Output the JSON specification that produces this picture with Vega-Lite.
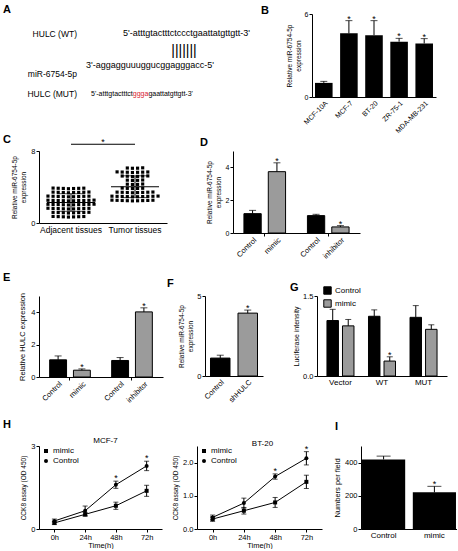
{
  "$schema": "https://vega.github.io/schema/vega-lite/v6.json",
  "padding": {"left": 3, "top": 4, "right": 0, "bottom": 0},
  "background": "white",
  "spacing": 0,
  "resolve": {"scale": {"x": "independent", "y": "independent", "color": "independent", "shape": "independent", "xOffset": "independent"}, "legend": {"color": "independent", "shape": "independent"}, "axis": {"x": "independent", "y": "independent"}},
  "datasets": {
    "seqs": [
      {"row": "WT", "part": "name", "text": "HULC (WT)"},
      {"row": "miR", "part": "name", "text": "miR-6754-5p"},
      {"row": "MUT", "part": "name", "text": "HULC (MUT)"},
      {"row": "WT", "part": "wt", "text": "5'-atttgtactttctccctgaattatgttgtt-3'"},
      {"row": "pair", "part": "pair", "text": "|||||||"},
      {"row": "miR", "part": "mir", "text": "3'-aggagguuuggucggagggacc-5'"},
      {"row": "MUT", "part": "mut1", "text": "5'-atttgtactttct"},
      {"row": "MUT", "part": "mut2", "text": "ggga"},
      {"row": "MUT", "part": "mut3", "text": "gaattatgttgtt-3'"}
    ],
    "cells": [
      {"cell": "MCF-10A", "mean": 1.02, "upper": 1.13, "sig": ""},
      {"cell": "MCF-7", "mean": 4.6, "upper": 5.52, "sig": "*"},
      {"cell": "BT-20", "mean": 4.47, "upper": 5.52, "sig": "*"},
      {"cell": "ZR-75-1", "mean": 4.0, "upper": 4.24, "sig": "*"},
      {"cell": "MDA-MB-231", "mean": 3.87, "upper": 4.22, "sig": "*"}
    ],
    "tissue": [
      {"group": "Adjacent tissues", "v": 3.86}, {"group": "Adjacent tissues", "v": 3.83}, {"group": "Adjacent tissues", "v": 3.88}, {"group": "Adjacent tissues", "v": 3.81}, {"group": "Adjacent tissues", "v": 3.85}, {"group": "Adjacent tissues", "v": 3.87}, {"group": "Adjacent tissues", "v": 3.84},
      {"group": "Adjacent tissues", "v": 3.41}, {"group": "Adjacent tissues", "v": 3.38}, {"group": "Adjacent tissues", "v": 3.43}, {"group": "Adjacent tissues", "v": 3.36}, {"group": "Adjacent tissues", "v": 3.40}, {"group": "Adjacent tissues", "v": 3.42}, {"group": "Adjacent tissues", "v": 3.39}, {"group": "Adjacent tissues", "v": 3.44},
      {"group": "Adjacent tissues", "v": 2.96}, {"group": "Adjacent tissues", "v": 2.93}, {"group": "Adjacent tissues", "v": 2.98}, {"group": "Adjacent tissues", "v": 2.91}, {"group": "Adjacent tissues", "v": 2.95}, {"group": "Adjacent tissues", "v": 2.97}, {"group": "Adjacent tissues", "v": 2.94}, {"group": "Adjacent tissues", "v": 2.99}, {"group": "Adjacent tissues", "v": 2.92},
      {"group": "Adjacent tissues", "v": 2.51}, {"group": "Adjacent tissues", "v": 2.48}, {"group": "Adjacent tissues", "v": 2.53}, {"group": "Adjacent tissues", "v": 2.46}, {"group": "Adjacent tissues", "v": 2.50}, {"group": "Adjacent tissues", "v": 2.52}, {"group": "Adjacent tissues", "v": 2.49}, {"group": "Adjacent tissues", "v": 2.54}, {"group": "Adjacent tissues", "v": 2.47}, {"group": "Adjacent tissues", "v": 2.50},
      {"group": "Adjacent tissues", "v": 2.06}, {"group": "Adjacent tissues", "v": 2.03}, {"group": "Adjacent tissues", "v": 2.08}, {"group": "Adjacent tissues", "v": 2.01}, {"group": "Adjacent tissues", "v": 2.05}, {"group": "Adjacent tissues", "v": 2.07}, {"group": "Adjacent tissues", "v": 2.04}, {"group": "Adjacent tissues", "v": 2.09}, {"group": "Adjacent tissues", "v": 2.02}, {"group": "Adjacent tissues", "v": 2.05},
      {"group": "Adjacent tissues", "v": 1.61}, {"group": "Adjacent tissues", "v": 1.58}, {"group": "Adjacent tissues", "v": 1.63}, {"group": "Adjacent tissues", "v": 1.56}, {"group": "Adjacent tissues", "v": 1.60}, {"group": "Adjacent tissues", "v": 1.62}, {"group": "Adjacent tissues", "v": 1.59}, {"group": "Adjacent tissues", "v": 1.64}, {"group": "Adjacent tissues", "v": 1.57},
      {"group": "Adjacent tissues", "v": 1.16}, {"group": "Adjacent tissues", "v": 1.13}, {"group": "Adjacent tissues", "v": 1.18}, {"group": "Adjacent tissues", "v": 1.11}, {"group": "Adjacent tissues", "v": 1.15}, {"group": "Adjacent tissues", "v": 1.17}, {"group": "Adjacent tissues", "v": 1.14}, {"group": "Adjacent tissues", "v": 1.19},
      {"group": "Adjacent tissues", "v": 0.71}, {"group": "Adjacent tissues", "v": 0.68}, {"group": "Adjacent tissues", "v": 0.73}, {"group": "Adjacent tissues", "v": 0.66}, {"group": "Adjacent tissues", "v": 0.70}, {"group": "Adjacent tissues", "v": 0.72}, {"group": "Adjacent tissues", "v": 0.69},
      {"group": "Tumor tissues", "v": 6.11}, {"group": "Tumor tissues", "v": 6.08}, {"group": "Tumor tissues", "v": 6.13}, {"group": "Tumor tissues", "v": 6.09},
      {"group": "Tumor tissues", "v": 5.66}, {"group": "Tumor tissues", "v": 5.63}, {"group": "Tumor tissues", "v": 5.68}, {"group": "Tumor tissues", "v": 5.61}, {"group": "Tumor tissues", "v": 5.65}, {"group": "Tumor tissues", "v": 5.67}, {"group": "Tumor tissues", "v": 5.64},
      {"group": "Tumor tissues", "v": 5.21}, {"group": "Tumor tissues", "v": 5.18}, {"group": "Tumor tissues", "v": 5.23}, {"group": "Tumor tissues", "v": 5.16}, {"group": "Tumor tissues", "v": 5.20}, {"group": "Tumor tissues", "v": 5.22},
      {"group": "Tumor tissues", "v": 4.76}, {"group": "Tumor tissues", "v": 4.73}, {"group": "Tumor tissues", "v": 4.78}, {"group": "Tumor tissues", "v": 4.74},
      {"group": "Tumor tissues", "v": 4.31}, {"group": "Tumor tissues", "v": 4.28}, {"group": "Tumor tissues", "v": 4.33}, {"group": "Tumor tissues", "v": 4.29},
      {"group": "Tumor tissues", "v": 3.86}, {"group": "Tumor tissues", "v": 3.83}, {"group": "Tumor tissues", "v": 3.88}, {"group": "Tumor tissues", "v": 3.84}, {"group": "Tumor tissues", "v": 3.85},
      {"group": "Tumor tissues", "v": 3.41}, {"group": "Tumor tissues", "v": 3.38}, {"group": "Tumor tissues", "v": 3.43}, {"group": "Tumor tissues", "v": 3.36}, {"group": "Tumor tissues", "v": 3.40}, {"group": "Tumor tissues", "v": 3.42}, {"group": "Tumor tissues", "v": 3.39}, {"group": "Tumor tissues", "v": 3.44},
      {"group": "Tumor tissues", "v": 2.96}, {"group": "Tumor tissues", "v": 2.93}, {"group": "Tumor tissues", "v": 2.98}, {"group": "Tumor tissues", "v": 2.91}, {"group": "Tumor tissues", "v": 2.95}, {"group": "Tumor tissues", "v": 2.97}, {"group": "Tumor tissues", "v": 2.94}, {"group": "Tumor tissues", "v": 2.99}, {"group": "Tumor tissues", "v": 2.92}, {"group": "Tumor tissues", "v": 2.96},
      {"group": "Tumor tissues", "v": 2.51}, {"group": "Tumor tissues", "v": 2.48}, {"group": "Tumor tissues", "v": 2.53}, {"group": "Tumor tissues", "v": 2.46}, {"group": "Tumor tissues", "v": 2.50}, {"group": "Tumor tissues", "v": 2.52}, {"group": "Tumor tissues", "v": 2.49}, {"group": "Tumor tissues", "v": 2.54}, {"group": "Tumor tissues", "v": 2.47}
    ],
    "tissueCompare": [
      {"from": "Adjacent tissues", "to": "Tumor tissues", "sig": "*"}
    ],
    "mimicInhib": [
      {"set": "mimic set", "arm": "Control", "label": "Control", "mean": 1.18, "upper": 1.38, "sig": ""},
      {"set": "mimic set", "arm": "Treated", "label": "mimic", "mean": 3.74, "upper": 4.28, "sig": "*"},
      {"set": "inhibitor set", "arm": "Control", "label": "Control", "mean": 1.06, "upper": 1.14, "sig": ""},
      {"set": "inhibitor set", "arm": "Treated", "label": "inhibitor", "mean": 0.37, "upper": 0.45, "sig": "*"}
    ],
    "hulc": [
      {"set": "mimic set", "arm": "Control", "label": "Control", "mean": 1.06, "upper": 1.3, "sig": ""},
      {"set": "mimic set", "arm": "Treated", "label": "mimic", "mean": 0.42, "upper": 0.5, "sig": "*"},
      {"set": "inhibitor set", "arm": "Control", "label": "Control", "mean": 1.02, "upper": 1.2, "sig": ""},
      {"set": "inhibitor set", "arm": "Treated", "label": "inhibitor", "mean": 4.02, "upper": 4.27, "sig": "*"}
    ],
    "shHULC": [
      {"label": "Control", "arm": "Control", "mean": 1.12, "upper": 1.3, "sig": ""},
      {"label": "shHULC", "arm": "Treated", "mean": 3.93, "upper": 4.12, "sig": "*"}
    ],
    "luc": [
      {"vec": "Vector", "arm": "Control", "mean": 1.04, "upper": 1.25, "sig": ""},
      {"vec": "Vector", "arm": "mimic", "mean": 0.94, "upper": 1.06, "sig": ""},
      {"vec": "WT", "arm": "Control", "mean": 1.12, "upper": 1.24, "sig": ""},
      {"vec": "WT", "arm": "mimic", "mean": 0.28, "upper": 0.36, "sig": "*"},
      {"vec": "MUT", "arm": "Control", "mean": 1.1, "upper": 1.32, "sig": ""},
      {"vec": "MUT", "arm": "mimic", "mean": 0.875, "upper": 0.96, "sig": ""}
    ],
    "cck8": [
      {"line": "MCF-7", "cond": "mimic", "t": "0h", "mean": 0.22, "lo": 0.16, "hi": 0.28, "sig": ""},
      {"line": "MCF-7", "cond": "mimic", "t": "24h", "mean": 0.53, "lo": 0.46, "hi": 0.6, "sig": ""},
      {"line": "MCF-7", "cond": "mimic", "t": "48h", "mean": 0.84, "lo": 0.71, "hi": 0.97, "sig": ""},
      {"line": "MCF-7", "cond": "mimic", "t": "72h", "mean": 1.38, "lo": 1.18, "hi": 1.58, "sig": ""},
      {"line": "MCF-7", "cond": "Control", "t": "0h", "mean": 0.29, "lo": 0.22, "hi": 0.36, "sig": ""},
      {"line": "MCF-7", "cond": "Control", "t": "24h", "mean": 0.66, "lo": 0.49, "hi": 0.83, "sig": ""},
      {"line": "MCF-7", "cond": "Control", "t": "48h", "mean": 1.6, "lo": 1.47, "hi": 1.73, "sig": "*"},
      {"line": "MCF-7", "cond": "Control", "t": "72h", "mean": 2.28, "lo": 2.11, "hi": 2.45, "sig": "*"},
      {"line": "BT-20", "cond": "mimic", "t": "0h", "mean": 0.3, "lo": 0.23, "hi": 0.37, "sig": ""},
      {"line": "BT-20", "cond": "mimic", "t": "24h", "mean": 0.55, "lo": 0.45, "hi": 0.65, "sig": ""},
      {"line": "BT-20", "cond": "mimic", "t": "48h", "mean": 0.8, "lo": 0.65, "hi": 0.95, "sig": ""},
      {"line": "BT-20", "cond": "mimic", "t": "72h", "mean": 1.42, "lo": 1.22, "hi": 1.62, "sig": ""},
      {"line": "BT-20", "cond": "Control", "t": "0h", "mean": 0.35, "lo": 0.28, "hi": 0.42, "sig": ""},
      {"line": "BT-20", "cond": "Control", "t": "24h", "mean": 0.78, "lo": 0.63, "hi": 0.93, "sig": ""},
      {"line": "BT-20", "cond": "Control", "t": "48h", "mean": 1.58, "lo": 1.5, "hi": 1.66, "sig": "*"},
      {"line": "BT-20", "cond": "Control", "t": "72h", "mean": 2.13, "lo": 1.93, "hi": 2.33, "sig": "*"}
    ],
    "migration": [
      {"label": "Control", "mean": 419, "upper": 439, "sig": ""},
      {"label": "mimic", "mean": 221, "upper": 257, "sig": "*"}
    ]
  },
  "vconcat": [
    {
      "spacing": 0,
      "bounds": "flush",
      "resolve": {"scale": {"x": "independent", "y": "independent", "color": "independent", "shape": "independent", "xOffset": "independent"}, "legend": {"color": "independent", "shape": "independent"}, "axis": {"x": "independent", "y": "independent"}},
      "hconcat": [
        {"width": 1, "height": 113, "data": {"values": []}, "mark": {"type": "point", "opacity": 0}, "title": {"text": "A", "dx": -35, "dy": 5}},
        {
          "width": 220, "height": 100,
          "data": {"name": "seqs"},
          "encoding": {
            "y": {"field": "row", "type": "nominal", "scale": {"type": "point", "domain": ["WT", "pair", "miR", "MUT"], "padding": 1.76}, "axis": null},
            "text": {"field": "text"}
          },
          "layer": [
            {"transform": [{"filter": "datum.part === 'name'"}], "mark": {"type": "text", "align": "right", "baseline": "middle", "dx": -72, "fontSize": 8.5, "color": "black"}},
            {"transform": [{"filter": "datum.part === 'wt'"}], "mark": {"type": "text", "align": "left", "baseline": "middle", "dx": -26, "dy": -1, "fontSize": 9, "color": "black"}},
            {"transform": [{"filter": "datum.part === 'pair'"}], "mark": {"type": "text", "align": "center", "baseline": "middle", "dx": 35, "dy": -3, "fontSize": 14, "color": "black"}},
            {"transform": [{"filter": "datum.part === 'mir'"}], "mark": {"type": "text", "align": "left", "baseline": "middle", "dx": -63, "dy": -9, "fontSize": 9, "color": "black"}},
            {"transform": [{"filter": "datum.part === 'mut1'"}], "mark": {"type": "text", "align": "left", "baseline": "middle", "dx": -58, "fontSize": 7, "color": "black"}},
            {"transform": [{"filter": "datum.part === 'mut2'"}], "mark": {"type": "text", "align": "left", "baseline": "middle", "dx": -16.2, "fontSize": 7, "color": "#d8202f"}},
            {"transform": [{"filter": "datum.part === 'mut3'"}], "mark": {"type": "text", "align": "left", "baseline": "middle", "dx": -0.6, "fontSize": 7, "color": "black"}}
          ]
        },
        {"width": 53, "height": 1, "data": {"values": []}, "mark": {"type": "point", "opacity": 0}, "title": {"text": "B", "dx": 2, "dy": 6}},
        {
          "width": 124, "height": 83,
          "data": {"name": "cells"},
          "encoding": {
            "x": {"field": "cell", "type": "nominal", "sort": null, "scale": {"paddingInner": 0.3, "paddingOuter": 0.12}, "axis": {"title": null, "labelAngle": -45, "labelFontSize": 7, "ticks": false, "labelPadding": 2}}
          },
          "layer": [
            {"mark": {"type": "bar", "color": "black"}, "encoding": {"y": {"field": "mean", "type": "quantitative", "scale": {"domain": [0, 6], "nice": false}, "axis": {"values": [0, 2, 4, 6], "title": ["Relative  miR-6754-5p", "expression"], "titleFontSize": 6.5, "titleLineHeight": 9, "labelFontSize": 7, "titlePadding": 3}}}},
            {"mark": {"type": "rule", "color": "black"}, "encoding": {"y": {"field": "mean", "type": "quantitative"}, "y2": {"field": "upper"}}},
            {"mark": {"type": "tick", "color": "black", "size": 7, "thickness": 1, "orient": "horizontal"}, "encoding": {"y": {"field": "upper", "type": "quantitative"}}},
            {"mark": {"type": "text", "fontSize": 9, "baseline": "alphabetic", "dy": 1, "color": "black"}, "encoding": {"y": {"field": "upper", "type": "quantitative"}, "text": {"field": "sig"}}}
          ]
        }
      ]
    },
    {
      "spacing": 0,
      "bounds": "flush",
      "resolve": {"scale": {"x": "independent", "y": "independent", "color": "independent", "shape": "independent", "xOffset": "independent"}, "legend": {"color": "independent", "shape": "independent"}, "axis": {"x": "independent", "y": "independent"}},
      "hconcat": [
        {"width": 1, "height": 121, "data": {"values": []}, "mark": {"type": "point", "opacity": 0}, "title": {"text": "C", "dx": -35, "dy": -2}},
        {
          "width": 128, "height": 72,
          "encoding": {
            "x": {"field": "group", "type": "nominal", "sort": null, "scale": {"domain": ["Adjacent tissues", "Tumor tissues"], "paddingInner": 0.2, "paddingOuter": 0.1}, "axis": {"title": null, "labelAngle": 0, "labelFontSize": 8.5, "ticks": false, "labelPadding": 2}}
          },
          "layer": [
            {
              "data": {"name": "tissue"},
              "transform": [
                {"bin": {"step": 0.45, "anchor": 0.025}, "field": "v", "as": "vbin"},
                {"window": [{"op": "row_number", "as": "k"}], "groupby": ["group", "vbin"], "sort": [{"field": "v"}]}
              ],
              "mark": {"type": "point", "shape": "square", "filled": true, "color": "black", "size": 10, "opacity": 1},
              "encoding": {
                "xOffset": {"field": "k", "type": "ordinal", "scale": {"type": "band", "domain": [9, 7, 5, 3, 1, 2, 4, 6, 8, 10], "paddingInner": 0, "paddingOuter": 0}},
                "y": {"field": "v", "type": "quantitative", "scale": {"domain": [0, 8], "nice": false}, "axis": {"values": [0, 2, 4, 6, 8], "title": ["Relative  miR-6754-5p", "expression"], "titleFontSize": 6.5, "titleLineHeight": 9, "labelFontSize": 7.5, "titlePadding": 4}}
              }
            },
            {"data": {"name": "tissue"}, "mark": {"type": "tick", "color": "black", "size": 48, "thickness": 1, "orient": "horizontal"}, "encoding": {"y": {"aggregate": "mean", "field": "v", "type": "quantitative", "title": ["Relative  miR-6754-5p", "expression"]}}},
            {"data": {"name": "tissue"}, "mark": {"type": "errorbar", "extent": "stdev", "color": "black", "ticks": {"size": 28, "color": "black"}}, "encoding": {"y": {"field": "v", "type": "quantitative", "title": ["Relative  miR-6754-5p", "expression"]}}},
            {"data": {"name": "tissueCompare"}, "mark": {"type": "rule", "color": "black"}, "encoding": {"x": {"field": "from", "type": "nominal"}, "x2": {"field": "to"}, "y": {"datum": 8.75, "type": "quantitative"}}},
            {"data": {"name": "tissueCompare"}, "mark": {"type": "text", "fontSize": 9, "baseline": "alphabetic", "dy": 1, "color": "black"}, "encoding": {"x": null, "y": {"datum": 8.75, "type": "quantitative"}, "text": {"field": "sig"}}}
          ]
        },
        {"width": 66, "height": 1, "data": {"values": []}, "mark": {"type": "point", "opacity": 0}, "title": {"text": "D", "dx": 33, "dy": 1}},
        {
          "width": 127, "height": 82,
          "data": {"name": "mimicInhib"},
          "encoding": {
            "x": {"field": "set", "type": "nominal", "sort": null, "scale": {"paddingInner": 0.344, "paddingOuter": 0.172}, "axis": {"title": null, "labels": false, "ticks": true, "tickSize": 3}},
            "xOffset": {"field": "arm", "type": "nominal", "scale": {"domain": ["Control", "Treated"], "paddingInner": 0.29, "paddingOuter": 0}}
          },
          "layer": [
            {"mark": {"type": "bar", "stroke": "black", "strokeWidth": 1}, "encoding": {"y": {"field": "mean", "type": "quantitative", "scale": {"domain": [0, 5], "nice": false}, "axis": {"values": [0, 1, 2, 3, 4, 5], "title": ["Relative  miR-6754-5p", "expression"], "titleFontSize": 6.5, "titleLineHeight": 9, "labelFontSize": 7, "titlePadding": 4}}, "color": {"field": "arm", "type": "nominal", "scale": {"domain": ["Control", "Treated"], "range": ["black", "#9b9b9b"]}, "legend": null}}},
            {"mark": {"type": "rule", "color": "black"}, "encoding": {"y": {"field": "mean", "type": "quantitative"}, "y2": {"field": "upper"}}},
            {"mark": {"type": "tick", "color": "black", "size": 7, "thickness": 1, "orient": "horizontal"}, "encoding": {"y": {"field": "upper", "type": "quantitative"}}},
            {"mark": {"type": "text", "fontSize": 9, "baseline": "alphabetic", "dy": 1, "color": "black"}, "encoding": {"y": {"field": "upper", "type": "quantitative"}, "text": {"field": "sig"}}},
            {"mark": {"type": "text", "fontSize": 7.5, "angle": 315, "align": "right", "baseline": "top", "color": "black"}, "encoding": {"y": {"datum": -0.2, "type": "quantitative"}, "text": {"field": "label"}}}
          ]
        }
      ]
    },
    {
      "spacing": 0,
      "bounds": "flush",
      "resolve": {"scale": {"x": "independent", "y": "independent", "color": "independent", "shape": "independent", "xOffset": "independent"}, "legend": {"color": "independent", "shape": "independent"}, "axis": {"x": "independent", "y": "independent"}},
      "hconcat": [
        {"width": 1, "height": 123, "data": {"values": []}, "mark": {"type": "point", "opacity": 0}, "title": {"text": "E", "dx": -35, "dy": -9}},
        {
          "width": 124, "height": 81,
          "data": {"name": "hulc"},
          "encoding": {
            "x": {"field": "set", "type": "nominal", "sort": null, "scale": {"paddingInner": 0.344, "paddingOuter": 0.172}, "axis": {"title": null, "labels": false, "ticks": true, "tickSize": 3}},
            "xOffset": {"field": "arm", "type": "nominal", "scale": {"domain": ["Control", "Treated"], "paddingInner": 0.29, "paddingOuter": 0}}
          },
          "layer": [
            {"mark": {"type": "bar", "stroke": "black", "strokeWidth": 1}, "encoding": {"y": {"field": "mean", "type": "quantitative", "scale": {"domain": [0, 5], "nice": false}, "axis": {"values": [0, 1, 2, 3, 4, 5], "title": "Relative  HULC expression", "titleFontSize": 7.5, "labelFontSize": 7.5, "titlePadding": 4}}, "color": {"field": "arm", "type": "nominal", "scale": {"domain": ["Control", "Treated"], "range": ["black", "#9b9b9b"]}, "legend": null}}},
            {"mark": {"type": "rule", "color": "black"}, "encoding": {"y": {"field": "mean", "type": "quantitative"}, "y2": {"field": "upper"}}},
            {"mark": {"type": "tick", "color": "black", "size": 7, "thickness": 1, "orient": "horizontal"}, "encoding": {"y": {"field": "upper", "type": "quantitative"}}},
            {"mark": {"type": "text", "fontSize": 9, "baseline": "alphabetic", "dy": 1, "color": "black"}, "encoding": {"y": {"field": "upper", "type": "quantitative"}, "text": {"field": "sig"}}},
            {"mark": {"type": "text", "fontSize": 7.5, "angle": 315, "align": "right", "baseline": "top", "color": "black"}, "encoding": {"y": {"datum": -0.2, "type": "quantitative"}, "text": {"field": "label"}}}
          ]
        },
        {"width": 42, "height": 1, "data": {"values": []}, "mark": {"type": "point", "opacity": 0}, "title": {"text": "F", "dx": 4, "dy": -3}},
        {
          "width": 58, "height": 80,
          "data": {"name": "shHULC"},
          "encoding": {
            "x": {"field": "label", "type": "nominal", "sort": null, "scale": {"paddingInner": 0.29, "paddingOuter": 0.2}, "axis": {"title": null, "labelAngle": -45, "labelFontSize": 7.5, "ticks": false, "labelPadding": 2}}
          },
          "layer": [
            {"mark": {"type": "bar", "stroke": "black", "strokeWidth": 1}, "encoding": {"y": {"field": "mean", "type": "quantitative", "scale": {"domain": [0, 5], "nice": false}, "axis": {"values": [0, 1, 2, 3, 4, 5], "title": ["Relative  miR-6754-5p", "expression"], "titleFontSize": 6.5, "titleLineHeight": 9, "labelFontSize": 7.5, "titlePadding": 3}}, "color": {"field": "arm", "type": "nominal", "scale": {"domain": ["Control", "Treated"], "range": ["black", "#9b9b9b"]}, "legend": null}}},
            {"mark": {"type": "rule", "color": "black"}, "encoding": {"y": {"field": "mean", "type": "quantitative"}, "y2": {"field": "upper"}}},
            {"mark": {"type": "tick", "color": "black", "size": 7, "thickness": 1, "orient": "horizontal"}, "encoding": {"y": {"field": "upper", "type": "quantitative"}}},
            {"mark": {"type": "text", "fontSize": 9, "baseline": "alphabetic", "dy": 1, "color": "black"}, "encoding": {"y": {"field": "upper", "type": "quantitative"}, "text": {"field": "sig"}}}
          ]
        },
        {"width": 54, "height": 1, "data": {"values": []}, "mark": {"type": "point", "opacity": 0}, "title": {"text": "G", "dx": 27, "dy": 1}},
        {
          "width": 130, "height": 80,
          "data": {"name": "luc"},
          "encoding": {
            "x": {"field": "vec", "type": "nominal", "sort": null, "scale": {"paddingInner": 0.2, "paddingOuter": 0.165}, "axis": {"title": null, "labelAngle": 0, "labelFontSize": 8, "ticks": false, "labelPadding": 2}},
            "xOffset": {"field": "arm", "type": "nominal", "scale": {"domain": ["Control", "mimic"], "paddingInner": 0.26, "paddingOuter": 0.2}}
          },
          "layer": [
            {"mark": {"type": "bar", "stroke": "black", "strokeWidth": 1}, "encoding": {"y": {"field": "mean", "type": "quantitative", "scale": {"domain": [0, 1.5], "nice": false}, "axis": {"values": [0, 0.5, 1, 1.5], "format": ".1f", "title": "Luciferase intensity", "titleFontSize": 7, "labelFontSize": 7.5, "titlePadding": 3}}, "color": {"field": "arm", "type": "nominal", "scale": {"domain": ["Control", "mimic"], "range": ["black", "#9b9b9b"]}, "legend": {"orient": "none", "legendX": 6, "legendY": -10, "title": null, "symbolType": "square", "symbolSize": 55, "symbolStrokeColor": "black", "symbolStrokeWidth": 1, "labelFontSize": 8, "labelColor": "black", "rowPadding": 0, "labelOffset": 3, "padding": 0}}}},
            {"mark": {"type": "rule", "color": "black"}, "encoding": {"y": {"field": "mean", "type": "quantitative"}, "y2": {"field": "upper"}}},
            {"mark": {"type": "tick", "color": "black", "size": 6, "thickness": 1, "orient": "horizontal"}, "encoding": {"y": {"field": "upper", "type": "quantitative"}}},
            {"mark": {"type": "text", "fontSize": 9, "baseline": "alphabetic", "dy": 1, "color": "black"}, "encoding": {"y": {"field": "upper", "type": "quantitative"}, "text": {"field": "sig"}}}
          ]
        }
      ]
    },
    {
      "spacing": 0,
      "bounds": "flush",
      "resolve": {"scale": {"x": "independent", "y": "independent", "color": "independent", "shape": "independent", "xOffset": "independent"}, "legend": {"color": "independent", "shape": "independent"}, "axis": {"x": "independent", "y": "independent"}},
      "hconcat": [
        {"width": 1, "height": 1, "data": {"values": []}, "mark": {"type": "point", "opacity": 0}, "title": {"text": "H", "dx": -35, "dy": -12}},
        {
          "width": 123, "height": 83,
          "data": {"name": "cck8"},
          "transform": [{"filter": "datum.line === 'MCF-7'"}],
          "title": {"text": "MCF-7", "anchor": "middle", "fontSize": 8, "fontWeight": "normal", "dx": 5, "dy": 4, "offset": 1},
          "encoding": {
            "x": {"field": "t", "type": "ordinal", "sort": null, "scale": {"type": "point", "padding": 0.5}, "axis": {"title": "Time(h)", "titleFontSize": 7.5, "titlePadding": 1, "labelAngle": 0, "labelFontSize": 7.5}}
          },
          "layer": [
            {"mark": {"type": "line", "color": "black", "strokeWidth": 1}, "encoding": {"y": {"field": "mean", "type": "quantitative", "scale": {"domain": [0, 3], "nice": false}, "axis": {"values": [0, 1, 2, 3], "title": "CCK8 assay (OD 450)", "titleFontSize": 6.5, "labelFontSize": 7.5, "titlePadding": 4}}, "detail": {"field": "cond"}}},
            {"mark": {"type": "rule", "color": "black"}, "encoding": {"y": {"field": "lo", "type": "quantitative"}, "y2": {"field": "hi"}}},
            {"mark": {"type": "tick", "color": "black", "size": 5, "thickness": 1, "orient": "horizontal"}, "encoding": {"y": {"field": "lo", "type": "quantitative"}}},
            {"mark": {"type": "tick", "color": "black", "size": 5, "thickness": 1, "orient": "horizontal"}, "encoding": {"y": {"field": "hi", "type": "quantitative"}}},
            {"mark": {"type": "point", "filled": true, "color": "black", "size": 16, "opacity": 1}, "encoding": {"y": {"field": "mean", "type": "quantitative"}, "shape": {"field": "cond", "type": "nominal", "scale": {"domain": ["mimic", "Control"], "range": ["square", "circle"]}, "legend": {"orient": "none", "legendX": 3, "legendY": 1, "title": null, "labelFontSize": 8, "labelColor": "black", "rowPadding": 0, "labelOffset": 3, "padding": 0, "symbolSize": 16, "symbolFillColor": "black", "symbolStrokeColor": "black"}}}},
            {"transform": [{"filter": "datum.sig === '*'"}], "mark": {"type": "text", "fontSize": 9, "baseline": "alphabetic", "dy": 0, "color": "black"}, "encoding": {"y": {"field": "hi", "type": "quantitative"}, "text": {"field": "sig"}}}
          ]
        },
        {"width": 35, "height": 1, "data": {"values": []}, "mark": {"type": "point", "opacity": 0}},
        {
          "width": 125, "height": 83,
          "data": {"name": "cck8"},
          "transform": [{"filter": "datum.line === 'BT-20'"}],
          "title": {"text": "BT-20", "anchor": "middle", "fontSize": 8, "fontWeight": "normal", "dx": 3, "dy": 4, "offset": 1},
          "encoding": {
            "x": {"field": "t", "type": "ordinal", "sort": null, "scale": {"type": "point", "padding": 0.5}, "axis": {"title": "Time(h)", "titleFontSize": 7.5, "titlePadding": 1, "labelAngle": 0, "labelFontSize": 7.5}}
          },
          "layer": [
            {"mark": {"type": "line", "color": "black", "strokeWidth": 1}, "encoding": {"y": {"field": "mean", "type": "quantitative", "scale": {"domain": [0, 2.5], "nice": false}, "axis": {"values": [0, 0.5, 1, 1.5, 2, 2.5], "format": ".1f", "title": "CCK8 assay (OD 450)", "titleFontSize": 6.5, "labelFontSize": 7.5, "titlePadding": 4}}, "detail": {"field": "cond"}}},
            {"mark": {"type": "rule", "color": "black"}, "encoding": {"y": {"field": "lo", "type": "quantitative"}, "y2": {"field": "hi"}}},
            {"mark": {"type": "tick", "color": "black", "size": 5, "thickness": 1, "orient": "horizontal"}, "encoding": {"y": {"field": "lo", "type": "quantitative"}}},
            {"mark": {"type": "tick", "color": "black", "size": 5, "thickness": 1, "orient": "horizontal"}, "encoding": {"y": {"field": "hi", "type": "quantitative"}}},
            {"mark": {"type": "point", "filled": true, "color": "black", "size": 16, "opacity": 1}, "encoding": {"y": {"field": "mean", "type": "quantitative"}, "shape": {"field": "cond", "type": "nominal", "scale": {"domain": ["mimic", "Control"], "range": ["square", "circle"]}, "legend": {"orient": "none", "legendX": 3, "legendY": 1, "title": null, "labelFontSize": 8, "labelColor": "black", "rowPadding": 0, "labelOffset": 3, "padding": 0, "symbolSize": 16, "symbolFillColor": "black", "symbolStrokeColor": "black"}}}},
            {"transform": [{"filter": "datum.sig === '*'"}], "mark": {"type": "text", "fontSize": 9, "baseline": "alphabetic", "dy": 0, "color": "black"}, "encoding": {"y": {"field": "hi", "type": "quantitative"}, "text": {"field": "sig"}}}
          ]
        },
        {"width": 39, "height": 1, "data": {"values": []}, "mark": {"type": "point", "opacity": 0}, "title": {"text": "I", "dx": 13, "dy": -10}},
        {
          "width": 96, "height": 83,
          "data": {"name": "migration"},
          "encoding": {
            "x": {"field": "label", "type": "nominal", "sort": null, "scale": {"paddingInner": 0.15, "paddingOuter": 0.02}, "axis": {"title": null, "labelAngle": 0, "labelFontSize": 8, "ticks": false, "labelPadding": 2}}
          },
          "layer": [
            {"mark": {"type": "bar", "color": "black"}, "encoding": {"y": {"field": "mean", "type": "quantitative", "scale": {"domain": [0, 500], "nice": false}, "axis": {"values": [0, 100, 200, 300, 400, 500], "title": "Numbers per field", "titleFontSize": 7.5, "labelFontSize": 7.5, "titlePadding": 3}}}},
            {"mark": {"type": "rule", "color": "black"}, "encoding": {"y": {"field": "mean", "type": "quantitative"}, "y2": {"field": "upper"}}},
            {"mark": {"type": "tick", "color": "black", "size": 14, "thickness": 1, "orient": "horizontal"}, "encoding": {"y": {"field": "upper", "type": "quantitative"}}},
            {"mark": {"type": "text", "fontSize": 9, "baseline": "alphabetic", "dy": 1, "color": "black"}, "encoding": {"y": {"field": "upper", "type": "quantitative"}, "text": {"field": "sig"}}}
          ]
        }
      ]
    }
  ],
  "config": {
    "font": "Liberation Sans",
    "view": {"stroke": null},
    "axis": {"grid": false, "domainColor": "black", "tickColor": "black", "labelColor": "black", "titleColor": "black", "titleFontWeight": "normal", "labelFontSize": 7.5, "titleFontSize": 7.5, "tickSize": 3, "labelPadding": 1, "titlePadding": 3, "domainWidth": 1, "tickWidth": 1},
    "title": {"fontSize": 11, "fontWeight": "bold", "anchor": "start", "frame": "group", "offset": 0, "baseline": "alphabetic", "color": "black"},
    "legend": {"labelColor": "black"}
  }
}
